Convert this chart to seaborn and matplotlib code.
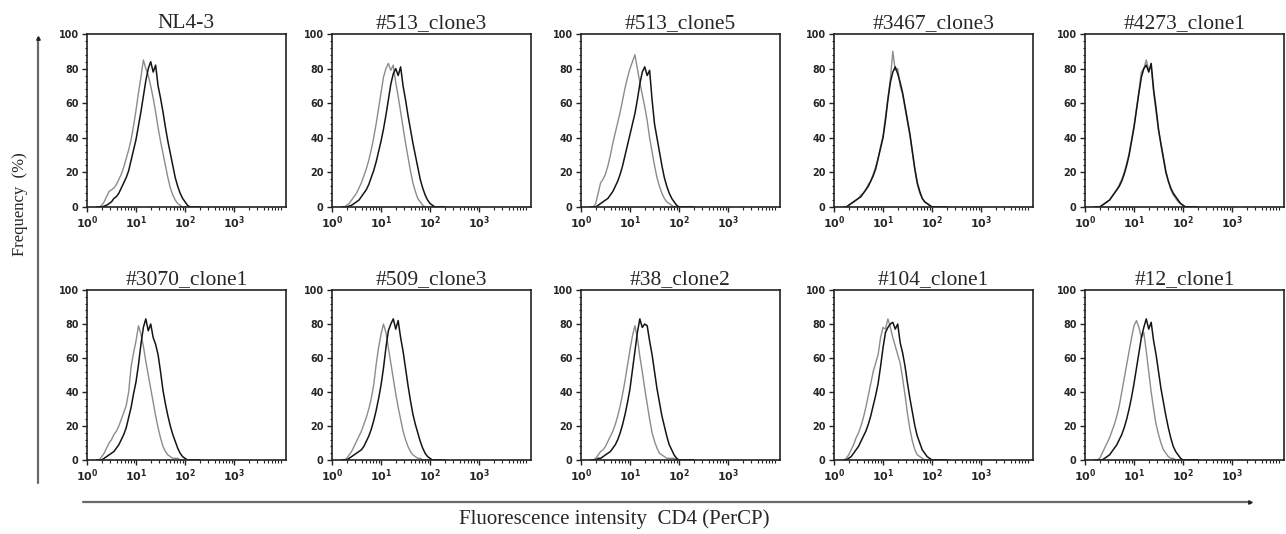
"""
CD4 surface expression histograms (flow cytometry), NL4-3 vs. clones.

Gray line = control, black line = sample. Frequency is % of max.
"""

import matplotlib

matplotlib.use("Agg")

import matplotlib.pyplot as plt
import numpy as np
import seaborn as sns
from matplotlib.lines import Line2D
from matplotlib.ticker import AutoMinorLocator, FixedLocator, LogLocator, NullFormatter

# log10 fluorescence bins shared by every histogram
LOG_BINS = [0.20, 0.25, 0.30, 0.35, 0.40, 0.45, 0.50, 0.55, 0.60, 0.65,
            0.70, 0.75, 0.80, 0.85, 0.90, 0.95, 1.00, 1.05, 1.10, 1.15,
            1.20, 1.25, 1.30, 1.35, 1.40, 1.45, 1.50, 1.55, 1.60, 1.65,
            1.70, 1.75, 1.80, 1.85, 1.90, 1.95, 2.00, 2.05, 2.10, 2.15,
            2.20, 2.25, 2.30]

TITLES = ["NL4-3", "#513_clone3", "#513_clone5", "#3467_clone3", "#4273_clone1",
          "#3070_clone1", "#509_clone3", "#38_clone2", "#104_clone1", "#12_clone1"]

NL43_GRAY = [0, 0, 1, 3, 6, 9, 10, 11, 13, 16, 19, 23, 28, 33, 39, 47, 56, 66, 75, 85,
             80, 76, 70, 63, 55, 46, 38, 31, 24, 17, 11, 7, 4, 2, 1, 0, 0, 0, 0, 0, 0, 0, 0]
NL43_BLACK = [0, 0, 0, 0.5, 1, 2, 3, 5, 6, 8, 11, 14, 17, 21, 27, 33, 39, 47, 55, 64,
              73, 80, 84, 78, 82, 70, 63, 55, 46, 38, 31, 24, 17, 12, 8, 5, 3, 1, 0, 0, 0, 0, 0]

C513_3_GRAY = [0, 0, 1, 2, 4, 6, 8, 11, 14, 18, 22, 27, 33, 40, 48, 57, 66, 75, 80, 83,
               79, 82, 72, 64, 55, 46, 37, 29, 21, 14, 9, 5, 3, 1, 0, 0, 0, 0, 0, 0, 0, 0, 0]
C513_3_BLACK = [0, 0, 0, 0.5, 1, 2, 3, 4, 6, 8, 10, 13, 17, 21, 26, 32, 38, 45, 53, 62,
                71, 77, 80, 76, 81, 70, 62, 53, 45, 37, 30, 23, 16, 11, 7, 4, 2, 1, 0, 0, 0, 0, 0]

C513_5_GRAY = [0, 0, 2, 8, 14, 16, 19, 24, 30, 37, 43, 49, 55, 62, 69, 75, 80, 84, 88, 80,
               72, 65, 58, 50, 40, 32, 24, 17, 12, 8, 5, 3, 2, 1, 0, 0, 0, 0, 0, 0, 0, 0, 0]
C513_5_BLACK = [0, 0, 0, 1, 2, 3, 4, 5, 7, 9, 12, 15, 19, 24, 30, 36, 42, 48, 54, 62,
                71, 78, 81, 76, 79, 62, 48, 40, 32, 24, 17, 12, 8, 5, 3, 1, 0, 0, 0, 0, 0, 0, 0]

C3467_GRAY = [0, 0, 1, 2, 3, 4, 5, 7, 8, 10, 13, 15, 19, 23, 28, 35, 41, 52, 63, 74,
              90, 79, 80, 70, 65, 57, 49, 41, 31, 21, 13, 8, 5, 3, 2, 1, 0, 0, 0, 0, 0, 0, 0]
C3467_BLACK = [0, 0, 1, 2, 3, 4, 5, 6, 8, 10, 12, 15, 18, 22, 28, 34, 40, 50, 62, 72,
               78, 81, 77, 72, 66, 58, 50, 42, 32, 22, 14, 9, 5, 3, 2, 1, 0, 0, 0, 0, 0, 0, 0]

C4273_GRAY = [0, 0, 0, 1, 2, 3, 4, 6, 8, 10, 13, 16, 20, 25, 31, 39, 47, 57, 67, 78,
              80, 85, 79, 81, 66, 55, 44, 37, 29, 21, 15, 10, 7, 5, 3, 2, 1, 0, 0, 0, 0, 0, 0]
C4273_BLACK = [0, 0, 0, 1, 2, 3, 4, 6, 8, 10, 12, 15, 19, 24, 30, 38, 46, 56, 66, 75,
               80, 82, 78, 83, 68, 57, 45, 36, 28, 20, 15, 11, 8, 6, 4, 2, 1, 0, 0, 0, 0, 0, 0]

C3070_GRAY = [0, 0, 2, 4, 7, 10, 12, 15, 17, 20, 24, 28, 32, 40, 55, 63, 70, 79, 74, 67,
              58, 50, 42, 34, 26, 19, 13, 8, 5, 3, 2, 1, 1, 1, 0, 0, 0, 0, 0, 0, 0, 0, 0]
C3070_BLACK = [0, 0, 0, 1, 2, 3, 4, 5, 7, 9, 12, 15, 19, 25, 31, 39, 46, 56, 68, 78,
               83, 76, 80, 72, 68, 62, 52, 41, 33, 26, 20, 15, 11, 7, 4, 2, 1, 0, 0, 0, 0, 0, 0]

C509_GRAY = [0, 0, 1, 3, 5, 8, 11, 14, 17, 21, 25, 30, 36, 44, 56, 66, 74, 80, 75, 66,
             57, 48, 39, 31, 24, 17, 12, 8, 5, 3, 2, 1, 1, 0, 0, 0, 0, 0, 0, 0, 0, 0, 0]
C509_BLACK = [0, 0, 0, 1, 2, 3, 4, 5, 6, 8, 11, 14, 18, 23, 29, 36, 44, 54, 66, 76,
              80, 83, 77, 82, 72, 64, 54, 44, 35, 27, 21, 16, 11, 7, 4, 2, 1, 0, 0, 0, 0, 0, 0]

C38_GRAY = [0, 0, 1, 3, 5, 6, 8, 11, 14, 17, 21, 26, 32, 39, 47, 56, 65, 73, 79, 72,
            61, 52, 42, 33, 24, 16, 11, 7, 4, 3, 2, 1, 1, 1, 1, 0, 0, 0, 0, 0, 0, 0, 0]
C38_BLACK = [0, 0, 0, 1, 1, 2, 3, 4, 5, 7, 9, 12, 16, 21, 27, 34, 42, 53, 64, 75,
             83, 78, 80, 79, 70, 62, 52, 42, 34, 26, 20, 14, 9, 6, 3, 1, 0, 0, 0, 0, 0, 0, 0]

C104_GRAY = [0, 1, 3, 6, 9, 13, 16, 20, 25, 31, 38, 45, 52, 57, 62, 72, 78, 77, 83, 78,
             72, 67, 62, 57, 48, 38, 27, 18, 11, 6, 3, 2, 1, 0, 0, 0, 0, 0, 0, 0, 0, 0, 0]
C104_BLACK = [0, 0, 1, 2, 4, 6, 8, 11, 14, 17, 21, 26, 32, 38, 45, 55, 66, 75, 78, 80,
              81, 77, 80, 69, 63, 55, 45, 36, 28, 20, 14, 10, 6, 4, 2, 1, 0, 0, 0, 0, 0, 0, 0]

C12_GRAY = [0, 0, 1, 4, 7, 10, 13, 17, 21, 26, 32, 40, 48, 56, 64, 72, 79, 82, 78, 72,
            75, 64, 52, 40, 30, 21, 15, 10, 6, 4, 2, 1, 1, 0, 0, 0, 0, 0, 0, 0, 0, 0, 0]
C12_BLACK = [0, 0, 0, 0, 1, 2, 3, 5, 7, 9, 12, 15, 19, 24, 30, 37, 45, 54, 63, 72,
             78, 83, 77, 81, 70, 62, 52, 42, 34, 26, 19, 13, 8, 5, 3, 1, 0, 0, 0, 0, 0, 0, 0]

Y_TICKS = [0, 20, 40, 60, 80, 100]
X_TICKS = [1, 10, 100, 1000]
X_TICK_LABELS = [r"$\mathbf{10^{0}}$", r"$\mathbf{10^{1}}$",
                 r"$\mathbf{10^{2}}$", r"$\mathbf{10^{3}}$"]

W, H = 1286, 534


def setup_plotting():
    sns.set_style("ticks")
    plt.rcParams["font.family"] = ["DejaVu Sans"]
    plt.rcParams["mathtext.fontset"] = "dejavusans"
    plt.rcParams["axes.linewidth"] = 1.2
    plt.rcParams["axes.edgecolor"] = "#222222"


def fig_rect(left, top, width, height):
    """pixel box (top-left origin) -> figure fraction rect"""
    return [left / W, 1 - (top + height) / H, width / W, height / H]


def draw_panel(ax, title, gray, black):
    x = [10 ** b for b in LOG_BINS]
    sns.lineplot(x=x, y=gray, ax=ax, color="#8c8c8c", linewidth=1.0,
                 estimator=None, sort=False)
    sns.lineplot(x=x, y=black, ax=ax, color="#151515", linewidth=1.1,
                 estimator=None, sort=False)

    ax.set_xscale("log")
    ax.set_xlim(1, 10 ** 4.06)
    ax.set_ylim(0, 100)

    ax.xaxis.set_major_locator(FixedLocator(X_TICKS))
    ax.set_xticklabels(X_TICK_LABELS)
    ax.xaxis.set_minor_locator(LogLocator(base=10, subs=np.arange(2, 10)))
    ax.xaxis.set_minor_formatter(NullFormatter())

    ax.yaxis.set_major_locator(FixedLocator(Y_TICKS))
    ax.yaxis.set_minor_locator(AutoMinorLocator(5))
    for lab in ax.get_yticklabels():
        lab.set_fontweight("bold")

    ax.tick_params(axis="both", which="major", direction="out", length=3.5,
                   width=1.0, color="#222222", labelsize=6.9, pad=2.5)
    ax.tick_params(axis="both", which="minor", direction="out", length=1.8,
                   width=0.8, color="#222222")
    ax.tick_params(axis="x", which="major", labelsize=8, pad=2)

    ax.set_xlabel("")
    ax.set_ylabel("")
    ax.set_title(title, family="Liberation Serif", fontsize=15.5, pad=4)
    for s in ax.spines.values():
        s.set_visible(True)


def main():
    setup_plotting()

    panels = [
        (TITLES[0], NL43_GRAY, NL43_BLACK),
        (TITLES[1], C513_3_GRAY, C513_3_BLACK),
        (TITLES[2], C513_5_GRAY, C513_5_BLACK),
        (TITLES[3], C3467_GRAY, C3467_BLACK),
        (TITLES[4], C4273_GRAY, C4273_BLACK),
        (TITLES[5], C3070_GRAY, C3070_BLACK),
        (TITLES[6], C509_GRAY, C509_BLACK),
        (TITLES[7], C38_GRAY, C38_BLACK),
        (TITLES[8], C104_GRAY, C104_BLACK),
        (TITLES[9], C12_GRAY, C12_BLACK),
    ]

    fig = plt.figure(figsize=(W / 100, H / 100), dpi=100)

    col_left = [87, 332, 581, 834, 1085]
    row_top = [34, 290]
    row_h = [173, 170]
    panel_w = 199

    for i, (title, gray, black) in enumerate(panels):
        r, c = divmod(i, 5)
        ax = fig.add_axes(fig_rect(col_left[c], row_top[r], panel_w, row_h[r]))
        draw_panel(ax, title, gray, black)

    # shared axis arrows
    line_col = "#6a6a6a"
    fig.add_artist(Line2D([38 / W, 38 / W], [1 - 483 / H, 1 - 38 / H],
                          transform=fig.transFigure, color=line_col, lw=1.6))
    fig.add_artist(Line2D([38 / W], [1 - 38 / H], transform=fig.transFigure,
                          marker="^", markersize=2.5, color="#222222", lw=0))
    fig.add_artist(Line2D([83 / W, 1250 / W], [1 - 502 / H, 1 - 502 / H],
                          transform=fig.transFigure, color=line_col, lw=1.6))
    fig.add_artist(Line2D([1250 / W], [1 - 502 / H], transform=fig.transFigure,
                          marker=">", markersize=2.5, color="#222222", lw=0))

    fig.text(20 / W, 1 - 204 / H, "Frequency  (%)", rotation=90, ha="center",
             va="center", family="Liberation Serif", fontsize=12)
    fig.text(614 / W, 1 - 519 / H, "Fluorescence intensity  CD4 (PerCP)",
             ha="center", va="center", family="Liberation Serif", fontsize=15)

    fig.savefig("out.png", dpi=100)
    plt.close(fig)


if __name__ == "__main__":
    main()
